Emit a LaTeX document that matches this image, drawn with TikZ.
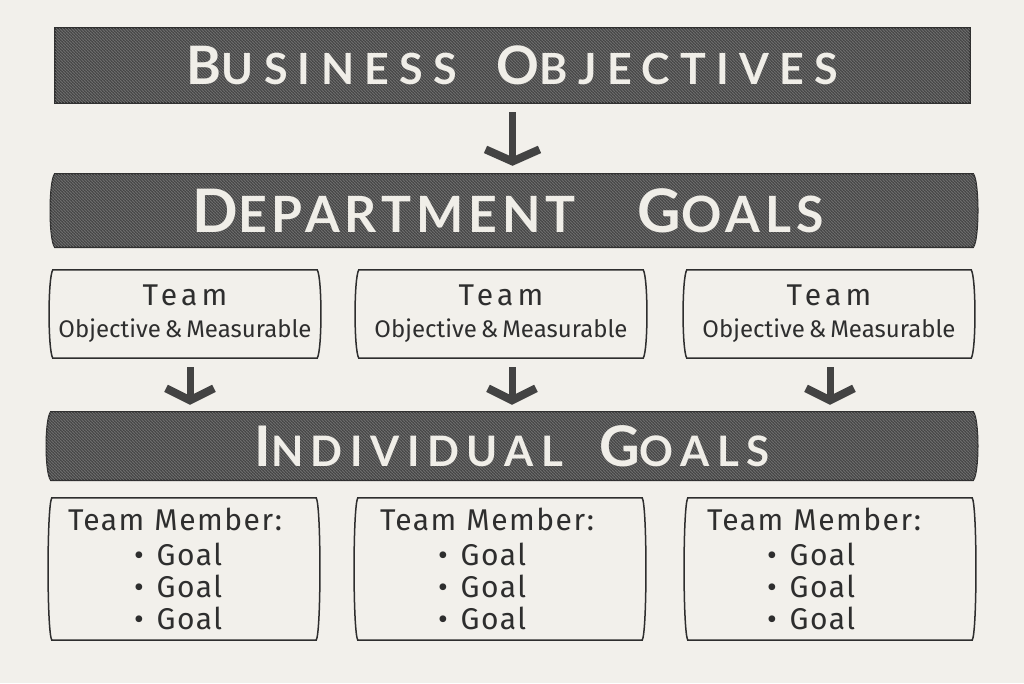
\documentclass[tikz,border=0pt]{standalone}
\usepackage{fontspec}
\setmainfont{Fira Sans}
\newfontfamily\banfont{Lato}[LetterSpace=0]
\usetikzlibrary{arrows.meta,patterns,calc}
\definecolor{paper}{HTML}{F2F0EB}
\definecolor{ink}{HTML}{2E2E2E}
\definecolor{bandfill}{HTML}{505050}
\definecolor{lettercol}{HTML}{F0EEE8}
\pgfdeclarelayer{paperlayer}
\pgfdeclarelayer{bg}
\pgfsetlayers{paperlayer,bg,main}
\newcommand\scword[4]{{\fontsize{#3}{#3}\selectfont #1}{\fontsize{#4}{#4}\selectfont #2}}
\newcommand\bantext[2]{{\banfont\bfseries\addfontfeatures{LetterSpace=#1}#2}}
\newcommand\skshape[3]{%
  \begin{pgfonlayer}{bg}
  \path[#3] (#1.north west) -- (#1.north east)
    .. controls ($(#1.north east)+(#2,8)$) and ($(#1.south east)+(#2,-8)$) .. (#1.south east)
    -- (#1.south west)
    .. controls ($(#1.south west)+(-#2,-8)$) and ($(#1.north west)+(-#2,8)$) .. (#1.north west) -- cycle;
  \end{pgfonlayer}}
\newcommand\teamtext{{\fontsize{30}{30}\selectfont\addfontfeatures{LetterSpace=14}Team}\\[12pt]{\fontsize{24}{24}\selectfont Objective\,\&\,Measurable}}
\newcommand\goalline[1]{\hspace*{#1}\textbullet\hspace{13pt}Goal}
\tikzset{
  banner/.style={inner sep=0pt, text=lettercol},
  bandpaint/.style={fill=bandfill, draw=ink, line width=1.6pt,
    postaction={pattern=north east lines, pattern color=black!75},
    postaction={pattern=north west lines, pattern color=black!55}},
  boxpaint/.style={draw=ink, line width=1.5pt, fill=paper},
  teambox/.style={inner sep=0pt, minimum width=#1, minimum height=88pt, align=center, text=ink},
  memberbox/.style={inner ysep=0pt, minimum height=142pt, align=left, text=ink,
    font=\fontsize{30}{32}\selectfont\addfontfeatures{LetterSpace=5}},
  bigarrow/.style={draw=ink!90, line width=7pt,
    -{Straight Barb[length=12pt, width=#1, line width=8pt]}},
}
\begin{document}
\begin{tikzpicture}[x=1pt, y=-1pt]
\useasboundingbox (0,0) rectangle (1024,683);
\begin{pgfonlayer}{paperlayer}
\fill[paper] (0,0) rectangle (1024,683);
\end{pgfonlayer}

% banners
\node[banner, minimum width=915pt, minimum height=75pt] (bo) at (512.5,65.5)
  {\bantext{24}{\scword{B}{USINESS}{53}{43}\hspace{40pt}\scword{O}{BJECTIVES}{53}{43}}};
\skshape{bo}{0}{bandpaint}

\node[banner, minimum width=918pt, minimum height=73pt] (dg) at (514,210.5)
  {\bantext{10}{\scword{D}{EPARTMENT}{60}{50}\hspace{62pt}\scword{G}{OALS}{60}{50}\hspace*{12pt}}};
\skshape{dg}{6}{bandpaint}

\node[banner, minimum width=922pt, minimum height=68pt] (ig) at (512,446)
  {\bantext{18}{\scword{I}{NDIVIDUAL}{56}{42}\hspace{36pt}\scword{G}{OALS}{56}{42}}};
\skshape{ig}{6}{bandpaint}

% team boxes
\node[teambox=264pt] (t1) at (185,314) {\teamtext};
\skshape{t1}{5}{boxpaint}
\node[teambox=284pt] (t2) at (501,314) {\teamtext};
\skshape{t2}{5}{boxpaint}
\node[teambox=284pt] (t3) at (829,314) {\teamtext};
\skshape{t3}{5}{boxpaint}

% member boxes
\node[memberbox, inner xsep=16pt, text width=232pt] (m1) at (184,569)
  {Team Member:\\[3pt]\goalline{66pt}\\\goalline{66pt}\\\goalline{66pt}};
\skshape{m1}{5}{boxpaint}
\node[memberbox, inner xsep=22pt, text width=240pt] (m2) at (500,569)
  {Team Member:\\[3pt]\goalline{58pt}\\\goalline{58pt}\\\goalline{58pt}};
\skshape{m2}{5}{boxpaint}
\node[memberbox, inner xsep=19pt, text width=246pt] (m3) at (830,569)
  {Team Member:\\[3pt]\goalline{60pt}\\\goalline{60pt}\\\goalline{60pt}};
\skshape{m3}{5}{boxpaint}

% arrows
\draw[bigarrow=54pt, shorten <=9pt, shorten >=8pt] (bo.south) -- (bo.south |- dg.north);
\draw[bigarrow=48pt, shorten <=9pt, shorten >=7pt] ($(t1.south)+(5,0)$) -- ($(t1.south |- ig.north)+(5,0)$);
\draw[bigarrow=48pt, shorten <=9pt, shorten >=7pt] ($(t2.south)+(11,0)$) -- ($(t2.south |- ig.north)+(11,0)$);
\draw[bigarrow=48pt, shorten <=9pt, shorten >=7pt] ($(t3.south)+(1,0)$) -- ($(t3.south |- ig.north)+(1,0)$);
\end{tikzpicture}
\end{document}
